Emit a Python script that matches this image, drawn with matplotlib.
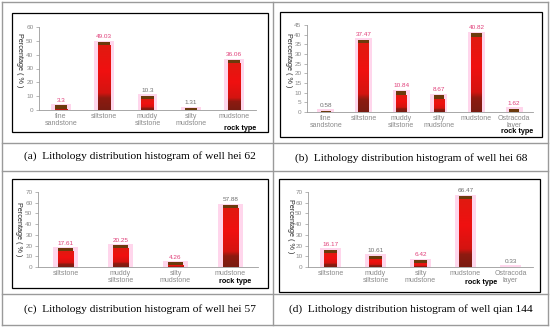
import numpy as np
import matplotlib.pyplot as plt
from matplotlib.patches import Rectangle
from matplotlib.lines import Line2D
from matplotlib.colors import LinearSegmentedColormap

W, H = 550, 328

# ---- data ----
cats_a = ['fine\nsandstone', 'siltstone', 'muddy\nsiltstone', 'silty\nmudstone', 'mudstone']
vals_a = [3.3, 49.03, 10.3, 1.31, 36.06]
cats_b = ['fine\nsandstone', 'siltstone', 'muddy\nsiltstone', 'silty\nmudstone', 'mudstone', 'Ostracoda\nlayer']
vals_b = [0.58, 37.47, 10.84, 8.67, 40.82, 1.62]
cats_c = ['siltstone', 'muddy\nsiltstone', 'silty\nmudstone', 'mudstone']
vals_c = [17.61, 20.25, 4.26, 57.88]
cats_d = ['siltstone', 'muddy\nsiltstone', 'silty\nmudstone', 'mudstone', 'Ostracoda\nlayer']
vals_d = [16.17, 10.61, 6.42, 66.47, 0.33]

captions = ['(a)  Lithology distribution histogram of well hei 62',
            '(b)  Lithology distribution histogram of well hei 68',
            '(c)  Lithology distribution histogram of well hei 57',
            '(d)  Lithology distribution histogram of well qian 144']

PINK = '#e0407a'
GREY = '#707070'
lab_cols_a = [PINK, PINK, GREY, GREY, PINK]
lab_cols_b = [GREY, PINK, PINK, PINK, PINK, PINK]
lab_cols_c = [PINK, PINK, PINK, GREY]
lab_cols_d = [PINK, GREY, PINK, GREY, GREY]

red_cmap = LinearSegmentedColormap.from_list(
    'bar', [(0.0, '#7a1c12'), (0.18, '#8e1a10'), (0.26, '#d41410'),
            (0.6, '#f01010'), (1.0, '#e01a10')])


def fx(x):
    return x / W


def fy(y):
    return 1 - y / H


def frame_line(fig, x0, y0, x1, y1, color='#9a9a9a', lw=1.0):
    fig.add_artist(Line2D([fx(x0), fx(x1)], [fy(y0), fy(y1)], color=color, lw=lw))


def draw_panel(fig, box, axpx, cats, vals, ymax, ystep, lab_cols, ylab_pos, rock_pos):
    # black frame round the chart
    x0, y0, x1, y1 = box
    fig.add_artist(Rectangle((fx(x0), fy(y1)), fx(x1 - x0), (y1 - y0) / H,
                             fill=False, ec='black', lw=0.9))
    l, t, r, b = axpx
    ax = fig.add_axes([fx(l), fy(b), fx(r - l), (b - t) / H])
    ax.patch.set_alpha(0)
    xs = np.arange(len(vals))
    cap = ymax * 0.04

    # pink glow behind the bars
    ax.bar(xs, np.array(vals) + cap * 0.4, width=0.46, color='#ffcce8', alpha=0.8, zorder=1)

    for x, v in zip(xs, vals):
        red_h = max(v - cap, 0)
        if red_h > 0:
            bar = ax.bar(x, red_h, width=0.28, color='#e01010', zorder=2)[0]
            grad = np.linspace(0, 1, 100).reshape(-1, 1)
            im = ax.imshow(grad, extent=[x - 0.14, x + 0.14, 0, red_h], origin='lower',
                           aspect='auto', cmap=red_cmap, zorder=2.5)
            im.set_clip_path(bar)
        ax.bar(x, v - red_h, bottom=red_h, width=0.28, color='#6b3a0c', zorder=3)

    for x, v, c in zip(xs, vals, lab_cols):
        ax.text(x, v + ymax * 0.035, f'{v:g}', ha='center', va='bottom', fontsize=4.6,
                color=c, family='Liberation Sans')

    ax.set_xlim(-0.5, len(vals) - 0.5)
    ax.set_ylim(0, ymax)
    ax.set_yticks(np.arange(0, ymax + 0.1, ystep))
    ax.set_xticks(xs)
    ax.set_xticklabels(cats, linespacing=1.0)
    for s in ['top', 'right']:
        ax.spines[s].set_visible(False)
    for s in ['left', 'bottom']:
        ax.spines[s].set_color('#9a9a9a')
        ax.spines[s].set_linewidth(0.6)
    ax.tick_params(axis='y', length=2, width=0.5, color='#9a9a9a', labelsize=4.6,
                   labelcolor='#8a8a8a', pad=2)
    ax.tick_params(axis='x', length=0, labelsize=5, labelcolor='#8a8a8a', pad=2)
    for lab in ax.get_xticklabels() + ax.get_yticklabels():
        lab.set_family('Liberation Sans')

    ax.set_ylabel('Percentage ( % )', rotation=270, fontsize=5.2, color='#222222',
                  family='Liberation Sans', ha='center', va='center')
    ax.yaxis.set_label_coords(*ylab_pos)
    ax.text(rock_pos[0], rock_pos[1], 'rock type', transform=ax.transAxes, fontsize=5.2,
            color='black', fontweight='bold', family='Liberation Sans', ha='right', va='center')
    return ax


fig = plt.figure(figsize=(5.5, 3.28), dpi=100)

# outer grey table lines
frame_line(fig, 2, 2, 548, 2)
frame_line(fig, 2, 325, 548, 325)
frame_line(fig, 2, 2, 2, 325)
frame_line(fig, 548, 2, 548, 325)
frame_line(fig, 273, 2, 273, 325)
frame_line(fig, 2, 143, 548, 143)
frame_line(fig, 2, 171, 548, 171)
frame_line(fig, 2, 294, 548, 294)

draw_panel(fig, (12, 13, 268, 132), (39, 27, 256, 110), cats_a, vals_a, 60, 10,
           lab_cols_a, (-0.088, 0.6), (1.0, -0.22))
draw_panel(fig, (280, 12, 542, 137), (307, 25, 533, 112), cats_b, vals_b, 45, 5,
           lab_cols_b, (-0.084, 0.6), (1.0, -0.22))
draw_panel(fig, (12, 179, 268, 288), (38, 192, 258, 267), cats_c, vals_c, 70, 10,
           lab_cols_c, (-0.09, 0.5), (0.97, -0.19))
draw_panel(fig, (279, 179, 540, 292), (308, 192, 533, 267), cats_d, vals_d, 70, 10,
           lab_cols_d, (-0.08, 0.55), (0.84, -0.2))

cap_pos = [(140, 156), (411, 158), (140, 309), (411, 309)]
for (cx, cy), txt in zip(cap_pos, captions):
    fig.text(fx(cx), fy(cy), txt, ha='center', va='center', fontsize=8.2,
             family='Liberation Serif', color='black')

fig.savefig('out.png', dpi=100)
